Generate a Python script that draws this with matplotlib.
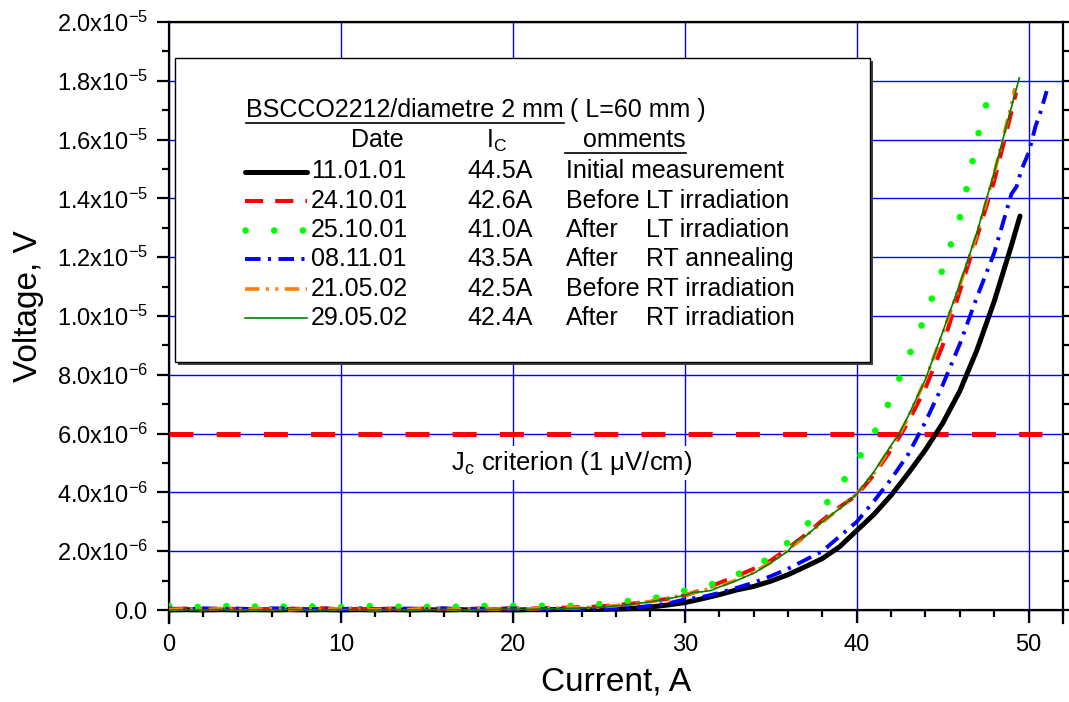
import numpy as np
import matplotlib
matplotlib.use('Agg')
import matplotlib.pyplot as plt
from matplotlib.patches import Rectangle

plt.rcParams['font.family'] = ['Liberation Sans', 'DejaVu Sans']
plt.rcParams['mathtext.fontset'] = 'custom'
plt.rcParams['mathtext.rm'] = 'Liberation Sans'

# flat (noise) part, current in A, voltage in 1e-6 V
i_low = [0, 1, 2, 3, 4, 5, 6, 7, 8, 9, 10, 11, 12, 13, 14, 15, 16, 17, 18, 19, 20, 21, 22, 23, 24]
black_low = [0.0, 0.01, 0.0, 0.01, 0.0, 0.01, 0.0, 0.01, 0.0, 0.01, 0.0, 0.01, 0.0, 0.01, 0.0, 0.01, 0.0, 0.01, 0.0, 0.01, 0.0, 0.01, 0.01, 0.02, 0.02]
red_low = [0.03, 0.05, 0.02, 0.06, 0.03, 0.04, 0.02, 0.05, 0.03, 0.06, 0.02, 0.04, 0.03, 0.05, 0.02, 0.06, 0.04, 0.03, 0.05, 0.04, 0.06, 0.05, 0.07, 0.08, 0.1]
lime_low = [0.14, 0.09, 0.11, 0.15, 0.1, 0.12, 0.09, 0.13, 0.11, 0.14, 0.1, 0.15, 0.12, 0.1, 0.14, 0.11, 0.13, 0.1, 0.15, 0.12, 0.14, 0.13, 0.15, 0.14, 0.15]
blue_low = [0.05, 0.02, 0.06, 0.03, 0.05, 0.02, 0.06, 0.04, 0.02, 0.05, 0.03, 0.06, 0.02, 0.04, 0.05, 0.03, 0.06, 0.02, 0.04, 0.03, 0.05, 0.03, 0.04, 0.03, 0.04]
orange_low = [0.02, 0.04, 0.01, 0.05, 0.02, 0.03, 0.05, 0.01, 0.04, 0.02, 0.05, 0.03, 0.01, 0.04, 0.02, 0.05, 0.03, 0.02, 0.04, 0.03, 0.05, 0.04, 0.06, 0.07, 0.08]
green_low = [0.0, 0.01, 0.0, 0.02, 0.0, 0.01, 0.0, 0.02, 0.01, 0.0, 0.02, 0.01, 0.0, 0.02, 0.0, 0.01, 0.02, 0.0, 0.01, 0.02, 0.03, 0.02, 0.04, 0.05, 0.07]

# rising part of each V-I curve
black_i = [25, 26, 27, 28, 29, 30, 31, 32, 33, 34, 35, 36, 37, 38, 39, 40, 41, 42, 43, 44, 45, 46, 47, 48, 49, 49.5]
black_v = [0.02, 0.03, 0.05, 0.1, 0.17, 0.25, 0.38, 0.52, 0.68, 0.8, 0.98, 1.2, 1.47, 1.75, 2.15, 2.7, 3.25, 3.9, 4.65, 5.45, 6.35, 7.45, 8.85, 10.5, 12.4, 13.4]

red_i = [25, 26, 27, 28, 29, 30, 31, 32, 33, 34, 35, 36, 37, 38, 39, 40, 41, 42, 42.6, 43, 44, 45, 46, 47, 48, 48.6, 49.27]
red_v = [0.12, 0.17, 0.22, 0.3, 0.38, 0.5, 0.68, 0.92, 1.15, 1.4, 1.68, 2.1, 2.55, 3.05, 3.5, 3.9, 4.6, 5.45, 6.0, 6.4, 7.55, 9.0, 10.85, 12.7, 14.6, 16.0, 17.6]

lime_i = [25, 26, 27, 28, 29, 30, 31, 32, 33, 34, 35, 36, 37, 38, 39, 40, 41, 42, 43, 44, 45, 46, 46.5, 47, 47.4, 47.95]
lime_v = [0.2, 0.27, 0.32, 0.38, 0.5, 0.66, 0.78, 0.95, 1.2, 1.45, 1.8, 2.3, 2.85, 3.45, 4.2, 5.05, 6.0, 7.2, 8.6, 10.0, 11.6, 13.35, 14.6, 16.0, 17.0, 17.75]

blue_i = [25, 26, 27, 28, 29, 30, 31, 32, 33, 34, 35, 36, 37, 38, 39, 40, 41, 42, 43, 43.5, 44, 45, 46, 47, 48, 48.5, 49, 49.3, 49.6, 50.0, 50.4, 50.7, 51.05]
blue_v = [0.03, 0.05, 0.08, 0.14, 0.22, 0.36, 0.44, 0.58, 0.75, 0.93, 1.15, 1.4, 1.7, 2.0, 2.5, 3.0, 3.7, 4.45, 5.3, 5.85, 6.4, 7.65, 9.05, 10.65, 12.15, 13.15, 14.15, 14.4, 15.0, 15.55, 16.45, 16.95, 17.65]

orange_i = [25, 26, 27, 28, 29, 30, 31, 32, 33, 34, 35, 36, 37, 38, 39, 40, 41, 42, 42.5, 43, 44, 45, 46, 47, 48, 49, 49.2]
orange_v = [0.1, 0.15, 0.21, 0.29, 0.4, 0.52, 0.66, 0.8, 1.02, 1.28, 1.62, 2.05, 2.5, 2.98, 3.45, 3.95, 4.65, 5.55, 6.0, 6.55, 7.85, 9.4, 11.05, 12.8, 14.85, 17.2, 17.75]

green_i = [25, 26, 27, 28, 29, 30, 30.5, 31, 31.5, 32, 33, 34, 35, 36, 36.5, 37, 38, 39, 40, 41, 42, 42.47, 43, 44, 45, 46, 47, 48, 49, 49.46]
green_v = [0.09, 0.14, 0.2, 0.28, 0.38, 0.5, 0.6, 0.62, 0.66, 0.78, 1.0, 1.25, 1.6, 2.0, 2.35, 2.5, 3.0, 3.45, 3.94, 4.7, 5.6, 6.0, 6.6, 7.85, 9.45, 11.1, 12.85, 14.9, 17.1, 18.1]

# 1 uV/cm criterion over L = 60 mm
crit_i = [0, 50.8]
crit_v = [6.0, 6.0]

dates = ['11.01.01', '24.10.01', '25.10.01', '08.11.01', '21.05.02', '29.05.02']
ic_labels = ['44.5A', '42.6A', '41.0A', '43.5A', '42.5A', '42.4A']
comment_a = ['Initial measurement', 'Before', 'After', 'After', 'Before', 'After']
comment_b = ['', 'LT irradiation', 'LT irradiation', 'RT annealing', 'RT irradiation', 'RT irradiation']

ytick_vals = [0, 2e-6, 4e-6, 6e-6, 8e-6, 1e-5, 1.2e-5, 1.4e-5, 1.6e-5, 1.8e-5, 2e-5]
ytick_labels = ['0.0', '2.0x10^{-6}', '4.0x10^{-6}', '6.0x10^{-6}', '8.0x10^{-6}', '1.0x10^{-5}',
                '1.2x10^{-5}', '1.4x10^{-5}', '1.6x10^{-5}', '1.8x10^{-5}', '2.0x10^{-5}']

series = [
    (black_low, black_i, black_v, dict(color='black', lw=3.6, ls='-', solid_capstyle='round')),
    (red_low, red_i, red_v, dict(color='#ff0000', lw=2.9, dashes=(4.5, 3.0))),
    (lime_low, lime_i, lime_v, dict(color='#00ff00', lw=4.8, dashes=(0.01, 4.3), dash_capstyle='round')),
    (blue_low, blue_i, blue_v, dict(color='#0000ff', lw=2.8, dashes=(4.0, 1.9, 0.8, 1.9))),
    (orange_low, orange_i, orange_v, dict(color='#ff8000', lw=2.6, dashes=(4.0, 1.8, 0.8, 1.8, 0.8, 1.8))),
    (green_low, green_i, green_v, dict(color='#008000', lw=1.2, ls='-')),
]

W, H = 1069, 702
AX_L, AX_R, AX_T, AX_B = 169, 1063, 22, 623

fig = plt.figure(figsize=(W / 100, H / 100), dpi=100)
ax = fig.add_axes([AX_L / W, 1 - AX_B / H, (AX_R - AX_L) / W, (AX_B - AX_T) / H])


def px(x, y):
    # pixel position in the picture -> axes fraction
    return (x - AX_L) / (AX_R - AX_L), (AX_B - y) / (AX_B - AX_T)


ax.plot(crit_i, np.array(crit_v) * 1e-6, color='#ff0000', lw=3.6, dashes=(4.8, 4.64), zorder=3)

for low, hi_i, hi_v, st in series:
    x = i_low + hi_i
    y = np.array(low + hi_v) * 1e-6
    ax.plot(x, y, zorder=4, **st)

ax.set_xlim(0, 52)
ax.set_ylim(-0.442e-6, 2.0e-5)
ax.set_xticks(range(0, 51, 10))
ax.set_xticks(range(0, 53, 2), minor=True)
ax.set_yticks(ytick_vals)
ax.set_yticklabels(['$\\mathregular{%s}$' % s for s in ytick_labels])
ax.set_yticks(np.arange(0, 2.05e-5, 1e-6), minor=True)
ax.grid(which='major', color='#0000ff', lw=1.0)
ax.set_axisbelow(True)

ax.spines['bottom'].set_position(('data', 0))
for s in ax.spines.values():
    s.set_linewidth(1.6)
ax.tick_params(which='both', direction='out', width=1.6, right=True, labelsize=17)
ax.tick_params(which='major', length=9)
ax.tick_params(which='minor', length=5)
ax.tick_params(axis='y', pad=6)
ax.tick_params(axis='x', pad=8)

ax.set_xlabel('Current, A', fontsize=24)
ax.set_ylabel('Voltage, V', fontsize=24)
ax.xaxis.set_label_coords(0.5, -0.072)
ax.yaxis.set_label_coords(-0.14, 0.527)

ax.text(16.4, 5.0e-6, 'J$_\\mathregular{c}$ criterion (1 \u03bcV/cm)', fontsize=18.5,
        va='center', ha='left', zorder=5,
        bbox=dict(facecolor='white', edgecolor='none', pad=2))

# legend box drawn by hand (Origin style table)
x0, y0 = px(175, 362)
x1, y1 = px(870, 58)
sh = 3 / (AX_R - AX_L)
ax.add_patch(Rectangle((x0 + sh, y0 - 3 / (AX_B - AX_T)), x1 - x0, y1 - y0, transform=ax.transAxes,
                       facecolor='#404040', edgecolor='none', zorder=6, clip_on=False))
ax.add_patch(Rectangle((x0, y0), x1 - x0, y1 - y0, transform=ax.transAxes,
                       facecolor='white', edgecolor='black', lw=1.0, zorder=7, clip_on=False))

fs = 18
t1 = ax.text(*px(246, 110), 'BSCCO2212/diametre 2 mm', transform=ax.transAxes, fontsize=fs,
             va='center', ha='left', zorder=8)
ax.text(*px(377, 140), 'Date', transform=ax.transAxes, fontsize=fs, va='center', ha='center', zorder=8)
ax.text(*px(486, 141), '$\\mathregular{I_C}$', transform=ax.transAxes, fontsize=fs,
        va='center', ha='left', zorder=8)
t3 = ax.text(*px(583, 140), 'omments', transform=ax.transAxes, fontsize=fs, va='center', ha='left', zorder=8)

row_y = [171.5, 200.7, 230, 259, 288.5, 318]
for k, (low, hi_i, hi_v, st) in enumerate(series):
    yy = row_y[k]
    lx0, ly = px(245, yy)
    lx1, _ = px(307, yy)
    ax.plot([lx0, lx1], [ly, ly], transform=ax.transAxes, clip_on=False, zorder=8, **st)
    ax.text(*px(311, yy), dates[k], transform=ax.transAxes, fontsize=fs, va='center', ha='left', zorder=8)
    ax.text(*px(467, yy), ic_labels[k], transform=ax.transAxes, fontsize=fs, va='center', ha='left', zorder=8)
    ax.text(*px(566, yy), comment_a[k], transform=ax.transAxes, fontsize=fs, va='center', ha='left', zorder=8)
    if comment_b[k]:
        ax.text(*px(646, yy), comment_b[k], transform=ax.transAxes, fontsize=fs, va='center', ha='left', zorder=8)

# underlines and rest of the title, placed after measuring the text
fig.canvas.draw()
r = fig.canvas.get_renderer()
inv = ax.transAxes.inverted()
b1 = t1.get_window_extent(r)
(ux0, uy), (ux1, _) = inv.transform([(b1.x0, b1.y0 - 1), (b1.x1, b1.y0)])
ax.plot([ux0, ux1], [uy, uy], color='black', lw=1.2, transform=ax.transAxes, clip_on=False, zorder=8)
ax.text(ux1 + 6 / (AX_R - AX_L), px(0, 110)[1], '( L=60 mm )', transform=ax.transAxes, fontsize=fs,
        va='center', ha='left', zorder=8)
b3 = t3.get_window_extent(r)
(vx1, vy) = inv.transform((b3.x1, b3.y0 - 1))
ax.plot([px(565, 0)[0], vx1], [vy, vy], color='black', lw=1.2, transform=ax.transAxes, clip_on=False, zorder=8)

fig.savefig('out.png', dpi=100)
